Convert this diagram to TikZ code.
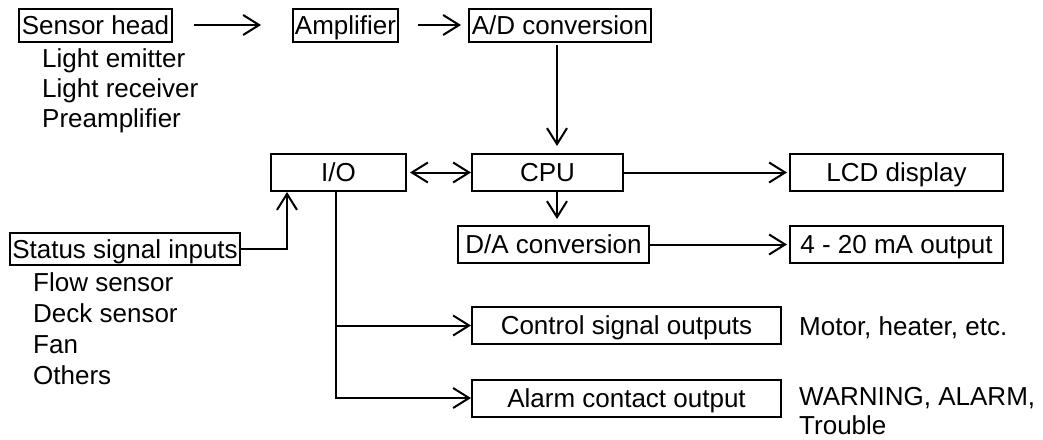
\documentclass[tikz,border=0pt]{standalone}
\usepackage{fontspec}
\setmainfont{Liberation Sans}
\usetikzlibrary{arrows.meta}
\begin{document}
\begin{tikzpicture}[x=1pt,y=-1pt,
  txt/.style={font=\fontsize{26}{30}\selectfont, inner sep=0pt},
  blk/.style={txt, draw, line width=2pt, text height=18.6pt, text depth=0pt},
  arr/.style={line width=2pt, -{Straight Barb[length=16pt,width=20pt]}},
  darr/.style={line width=2pt, {Straight Barb[length=16pt,width=20pt]}-{Straight Barb[length=16pt,width=20pt]}},
  ln/.style={line width=2pt}]
\useasboundingbox (0,0) rectangle (1043,439);
% boxes
\node[blk, minimum width=153pt, minimum height=33pt] (sensor) at (95.5,25) {Sensor head};
\node[blk, minimum width=105pt, minimum height=33pt] (amp) at (345.5,25) {Amplifier};
\node[blk, minimum width=182pt, minimum height=33pt] (ad) at (560,25) {A/D conversion};
\node[blk, minimum width=135pt, minimum height=37pt] (io) at (338.5,172.5) {I/O};
\node[blk, minimum width=151pt, minimum height=37pt] (cpu) at (547.5,172.5) {CPU};
\node[blk, minimum width=213pt, minimum height=37pt] (lcd) at (896.5,172.5) {LCD display};
\node[blk, minimum width=191pt, minimum height=37pt] (da) at (553.5,244.5) {D/A conversion};
\node[blk, minimum width=213pt, minimum height=37pt] (out) at (896.5,244.5) {4 - 20 mA output};
\node[blk, minimum width=309pt, minimum height=37pt] (ctrl) at (626.5,325.5) {Control signal outputs};
\node[blk, minimum width=309pt, minimum height=37pt] (alarm) at (626.5,398) {Alarm contact output};
\node[blk, minimum width=230pt, minimum height=32pt] (status) at (125,249) {Status signal inputs};
% plain texts
\node[txt, anchor=base west] (le) at (42,67) {Light emitter};
\node[txt, anchor=base west] (lr) at (42,97) {Light receiver};
\node[txt, anchor=base west] (pa) at (42,127) {Preamplifier};
\node[txt, anchor=base west] (fs) at (33,291) {Flow sensor};
\node[txt, anchor=base west] (ds) at (33,322) {Deck sensor};
\node[txt, anchor=base west] (fan) at (33,353) {Fan};
\node[txt, anchor=base west] (oth) at (33,384) {Others};
\node[txt, anchor=base west] (mot) at (799,335) {Motor, heater, etc.};
\node[txt, anchor=base west] (warn) at (799,405) {WARNING, ALARM,};
\node[txt, anchor=base west] (trb) at (799,434) {Trouble};
% helper coordinates
\coordinate (v1) at (557,0);
\coordinate (sv) at (287,0);
\coordinate (iv) at (336,0);
% connectors
\draw[arr, shorten <=21pt, shorten >=31pt] (sensor) -- (amp);
\draw[arr, shorten <=19pt, shorten >=7pt] (amp) -- (ad);
\draw[arr, shorten <=2pt, shorten >=7pt] (v1 |- ad.south) -- (v1 |- cpu.north);
\draw[darr, shorten <=3pt] (io) -- (cpu);
\draw[arr, shorten >=2pt] (cpu) -- (lcd);
\draw[arr, shorten >=6pt] (v1 |- cpu.south) -- (v1 |- da.north);
\draw[arr, shorten >=2pt] (da) -- (out);
\draw[arr] (status.east) -| (sv |- io.south);
\draw[arr] (iv |- io.south) |- (alarm.west);
\draw[arr] (iv |- ctrl.west) -- (ctrl.west);
\end{tikzpicture}
\end{document}
